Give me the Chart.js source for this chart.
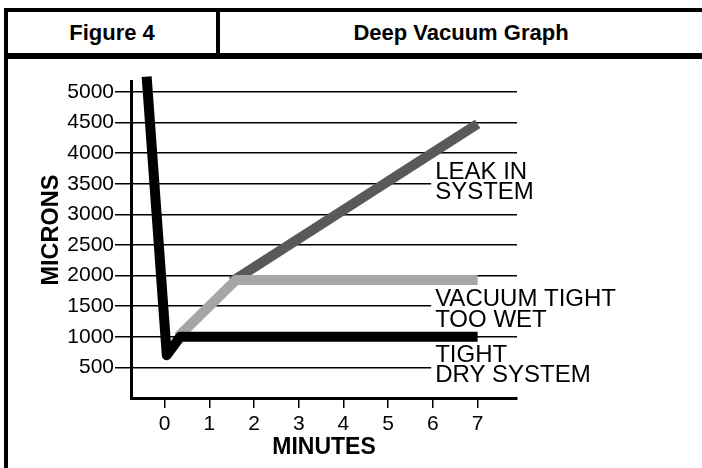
<!DOCTYPE html>
<html>
<head>
<meta charset="utf-8">
<script src="https://cdn.jsdelivr.net/npm/chart.js@4/dist/chart.umd.min.js"></script>
<style>
  html, body { margin: 0; padding: 0; background: #fff; }
  body { width: 702px; height: 468px; position: relative; overflow: hidden; font-family: "Liberation Sans", Arial, Helvetica, sans-serif; }
  .bar { position: absolute; background: #000; }
  .head { position: absolute; top: 12px; height: 41px; display: flex; align-items: center; justify-content: center; font-weight: bold; font-size: 22px; color: #000; }
  canvas { position: absolute; left: 0; top: 0; }
</style>
</head>
<body>
<div class="bar" style="left:4px;top:8px;width:4px;height:460px"></div>
<div class="bar" style="left:4px;top:8px;width:698px;height:4px"></div>
<div class="bar" style="left:4px;top:53px;width:698px;height:6px"></div>
<div class="bar" style="left:216px;top:8px;width:4px;height:50px"></div>
<div class="head" style="left:8px;width:208px">Figure 4</div>
<div class="head" style="left:220px;width:482px">Deep Vacuum Graph</div>
<canvas id="c" width="702" height="468"></canvas>
<script>
// ---- data (minutes, microns) ----
const tightX   = [-0.4, 0.05, 0.35, 7];
const tightY   = [5250, 700, 1000, 1000];
const wetX     = [0.3, 1.6, 7];
const wetY     = [1000, 1930, 1930];
const leakX    = [1.5, 7];
const leakY    = [1900, 4480];
const xTicks   = [0, 1, 2, 3, 4, 5, 6, 7];
const yTicks   = [500, 1000, 1500, 2000, 2500, 3000, 3500, 4000, 4500, 5000];
const labelLines = [["LEAK IN", "SYSTEM"], ["VACUUM TIGHT", "TOO WET"], ["TIGHT", "DRY SYSTEM"]];
const labelAtX   = [6.05, 6.05, 6.05];
const labelAtY   = [3580, 1500, 590];

const pts = (xs, ys) => xs.map((x, i) => ({x: x, y: ys[i]}));
const FONT = '"Liberation Sans", Arial, Helvetica, sans-serif';

const labelPlugin = {
  id: 'curveLabels',
  beforeDatasetsDraw(chart) {
    const ctx = chart.ctx, xs = chart.scales.x, ys = chart.scales.y, ca = chart.chartArea;
    ctx.save();
    ctx.font = '24px ' + FONT;
    ctx.textAlign = 'left';
    ctx.textBaseline = 'alphabetic';
    labelLines.forEach((lines, i) => {
      const px = xs.getPixelForValue(labelAtX[i]);
      const py = ys.getPixelForValue(labelAtY[i]);
      const lh = 20.5;
      ctx.fillStyle = '#fff';
      ctx.fillRect(px - 4, py - 18, ca.right + 10 - (px - 4), lh * (lines.length - 1) + 23);
      ctx.fillStyle = '#000';
      lines.forEach((t, j) => ctx.fillText(t, px, py + j * lh));
    });
    ctx.restore();
  },
  afterDraw(chart) {
    const ctx = chart.ctx;
    ctx.save();
    ctx.translate(52, 230);
    ctx.rotate(-Math.PI / 2);
    ctx.font = 'bold 23.5px ' + FONT;
    ctx.fillStyle = '#000';
    ctx.textAlign = 'center';
    ctx.textBaseline = 'middle';
    ctx.fillText('MICRONS', 0, 0);
    ctx.restore();
  }
};

const common = { showLine: true, pointRadius: 0, borderWidth: 10, tension: 0, fill: false,
                 borderCapStyle: 'butt', borderJoinStyle: 'round', clip: false };

new Chart(document.getElementById('c'), {
  type: 'scatter',
  data: {
    datasets: [
      Object.assign({ label: 'Tight dry system', data: pts(tightX, tightY), borderColor: '#000000' }, common),
      Object.assign({ label: 'Vacuum tight too wet', data: pts(wetX, wetY), borderColor: '#a6a6a6' }, common),
      Object.assign({ label: 'Leak in system', data: pts(leakX, leakY), borderColor: '#595959' }, common)
    ]
  },
  options: {
    responsive: false,
    animation: false,
    events: [],
    layout: { padding: { left: 0, right: 185, top: 81, bottom: 0 } },
    plugins: { legend: { display: false }, tooltip: { enabled: false } },
    scales: {
      x: {
        type: 'linear', min: -0.75, max: 7.88,
        afterBuildTicks: s => { s.ticks = xTicks.map(v => ({ value: v })); },
        afterFit: s => { s.height = 70; },
        grid: { drawOnChartArea: false, drawTicks: true, tickLength: 10, color: '#000', lineWidth: 1.5 },
        border: { display: true, color: '#000', width: 3 },
        ticks: { color: '#000', font: { family: FONT, size: 21 }, padding: 4, maxRotation: 0, callback: v => String(v) },
        title: { display: true, text: 'MINUTES', color: '#000', font: { family: FONT, size: 23, weight: 'bold' }, padding: { top: 0, bottom: 7 } }
      },
      y: {
        type: 'linear', min: 0, max: 5180,
        afterBuildTicks: s => { s.ticks = yTicks.map(v => ({ value: v })); },
        afterFit: s => { s.width = 131; },
        grid: { drawOnChartArea: true, drawTicks: true, tickLength: 16, color: '#000', lineWidth: 1.5 },
        border: { display: true, color: '#000', width: 3 },
        ticks: { color: '#000', font: { family: FONT, size: 21 }, padding: 1, callback: v => String(v) },
        title: { display: false }
      }
    }
  },
  plugins: [labelPlugin]
});
</script>
</body>
</html>
